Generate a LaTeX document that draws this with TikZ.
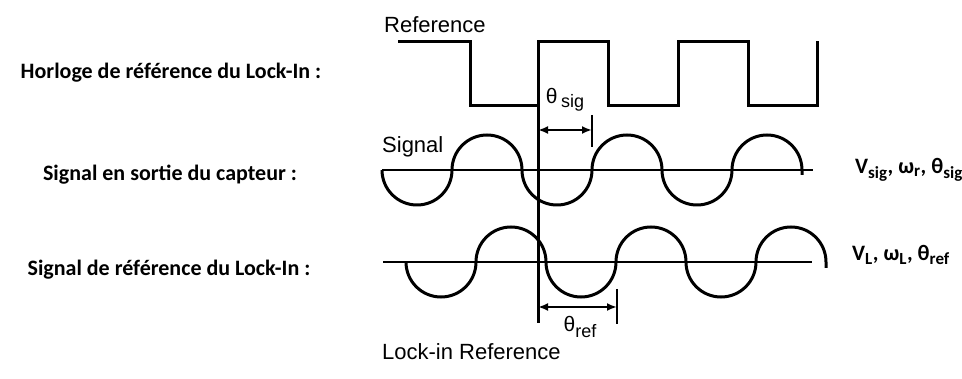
\documentclass[tikz,border=0pt]{standalone}
\usepackage{fontspec}
\setmainfont{Carlito}
\newfontfamily\plotfont{Liberation Sans}
\usetikzlibrary{arrows.meta,positioning}

\tikzset{
    rowlabel/.style={font=\fontsize{22}{26}\selectfont\bfseries, inner sep=0pt},
    plotlabel/.style={font=\plotfont\fontsize{22}{26}\selectfont, anchor=west, inner sep=0pt},
    trace/.style={line width=3pt, line join=miter},
    axis/.style={line width=2.4pt},
    tick/.style={line width=2.6pt},
    span/.style={line width=2.4pt, {Latex[length=10pt,width=8pt]}-{Latex[length=10pt,width=8pt]}},
}
\newcommand{\sub}[1]{\textsubscript{\fontsize{17}{20}\selectfont #1}}

\begin{document}
\begin{tikzpicture}[x=1pt,y=-1pt]
    \useasboundingbox (0,0) rectangle (962,379);

    % Row labels (left)
    \node[rowlabel] (clk) at (171,73) {Horloge de référence du Lock-In :};
    \node[rowlabel] (sens) at (170,175) {Signal en sortie du capteur :};
    \node[rowlabel] (lia) at (169,270) {Signal de référence du Lock-In :};

    % Parameters (right)
    \node[rowlabel, anchor=west] (psig) at (855,170) {V\sub{sig}, ω\sub{r}, θ\sub{sig}};
    \node[rowlabel, anchor=west] (pref) at (852,255) {V\sub{L}, ω\sub{L}, θ\sub{ref}};

    % Plot titles
    \node[plotlabel] (tref) at (384,25) {Reference};
    \node[plotlabel] (tsig) at (382,147) {Signal};
    \node[plotlabel] (tlock) at (382,352) {Lock-in Reference};

    % Reference clock (square wave)
    \draw[trace] (398,42) -- (470,42) -- (470,106) -- (538,106) -- (538,42)
        -- (608,42) -- (608,106) -- (678,106) -- (678,42)
        -- (748,42) -- (748,106) -- (817,106) -- (817,41);

    % Rising edge carried down through both sines
    \draw[trace] (538,106) -- (538,323);

    % Sensor signal: half circles, trough first
    \draw[axis] (382,170) -- (813,170);
    \draw[trace] (382,170) foreach \k in {1,2,3} {
        arc[start angle=180, end angle=0, radius=35]
        arc[start angle=180, end angle=360, radius=35]} -- ++(0,5);

    % Lock-in reference
    \draw[axis] (383,262) -- (812,262);
    \draw[trace] (406,262) foreach \k in {1,2,3} {
        arc[start angle=180, end angle=0, radius=35]
        arc[start angle=180, end angle=360, radius=35]} -- ++(0,6);

    % Phase of the signal
    \coordinate (sigL) at (538,130);
    \coordinate (sigR) at (592,130);
    \draw[tick] (592,115) -- (592,147);
    \draw[span] (sigL) -- (sigR);
    \node[font=\plotfont\fontsize{21}{24}\selectfont, inner sep=0pt] (thsig) at (565,100)
        {θ\,\raisebox{-4pt}{\fontsize{18}{20}\selectfont sig}};

    % Phase of the lock-in reference
    \coordinate (refL) at (538,307);
    \coordinate (refR) at (617,307);
    \draw[tick] (617,289) -- (617,324);
    \draw[span] (refL) -- (refR);
    \node[font=\plotfont\fontsize{21}{24}\selectfont, inner sep=0pt] (thref) at (580,327)
        {θ\raisebox{-6pt}{\fontsize{18}{20}\selectfont ref}};
\end{tikzpicture}
\end{document}
